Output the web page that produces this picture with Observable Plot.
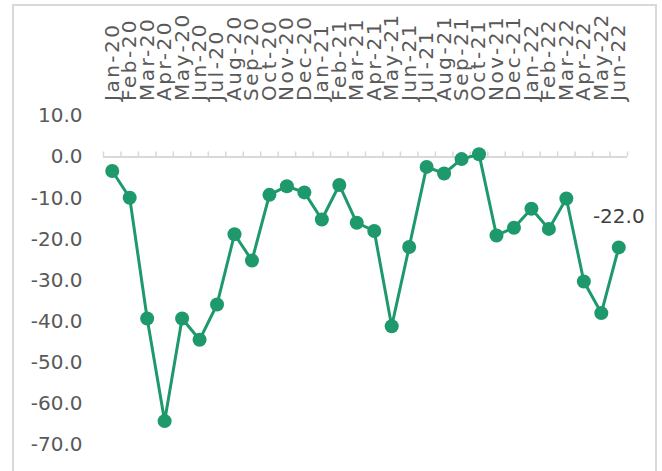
<!DOCTYPE html>
<html><head><meta charset="utf-8">
<script src="https://cdn.jsdelivr.net/npm/d3@7"></script>
<script src="https://cdn.jsdelivr.net/npm/@observablehq/plot@0.6"></script>
<style>
body{margin:0;background:#fff;}
#wrap{position:relative;width:662px;height:471px;overflow:hidden;}
#border{position:absolute;left:12px;top:4px;width:645px;height:500px;border:2px solid #d9d9d9;box-sizing:border-box;pointer-events:none;}
</style></head><body><div id="wrap"><div id="chart"></div><div id="border"></div></div>
<script>
const months = ["Jan-20","Feb-20","Mar-20","Apr-20","May-20","Jun-20","Jul-20","Aug-20","Sep-20","Oct-20","Nov-20","Dec-20",
  "Jan-21","Feb-21","Mar-21","Apr-21","May-21","Jun-21","Jul-21","Aug-21","Sep-21","Oct-21","Nov-21","Dec-21",
  "Jan-22","Feb-22","Mar-22","Apr-22","May-22","Jun-22"];
const values = [-3.4,-9.9,-39.3,-64.3,-39.3,-44.5,-35.9,-18.8,-25.2,-9.2,-7.1,-8.6,
  -15.2,-6.8,-16.0,-18.0,-41.2,-21.9,-2.4,-4.0,-0.5,0.7,-19.1,-17.2,
  -12.6,-17.5,-10.1,-30.3,-38.0,-22.0];
const yTicks = [10,0,-10,-20,-30,-40,-50,-60,-70];

const data = months.map((m,i)=>({i, month:m, value:values[i]}));
const green = "#1d996c";
const chart = Plot.plot({
  width:662, height:471,
  marginLeft:103, marginRight:35, marginTop:115.5, marginBottom:27,
  style:{fontFamily:"DejaVu Sans", background:"transparent"},
  x:{type:"linear", domain:[-0.5, months.length-0.5]},
  y:{domain:[-70,10]},
  marks:[
    Plot.ruleY([0], {stroke:"#d9d9d9", strokeWidth:2}),
    Plot.ruleX(d3.range(months.length+1).map(i=>i-0.5), {y1:0, y2:1.25, stroke:"#d9d9d9", strokeWidth:1.5}),
    Plot.axisY({ticks:yTicks, tickFormat:d=>d.toFixed(1), tickSize:0, tickPadding:21, fontSize:20, color:"#595959", label:null}),
    Plot.axisX({anchor:"top", ticks:d3.range(months.length), tickFormat:i=>months[i], tickSize:0, tickPadding:15, tickRotate:-90, fontSize:20, color:"#595959", label:null}),
    Plot.line(data, {x:"i", y:"value", stroke:green, strokeWidth:3}),
    Plot.dot(data, {x:"i", y:"value", r:7, fill:green}),
    Plot.text([data[data.length-1]], {x:"i", y:"value", text:d=>d.value.toFixed(1), dy:-31, fontSize:20, fill:"#404040"})
  ]
});
d3.select(chart).selectAll("[aria-label='x-axis tick label'] text").attr("letter-spacing","2.5px");
document.getElementById("chart").appendChild(chart);
</script>
</body></html>
